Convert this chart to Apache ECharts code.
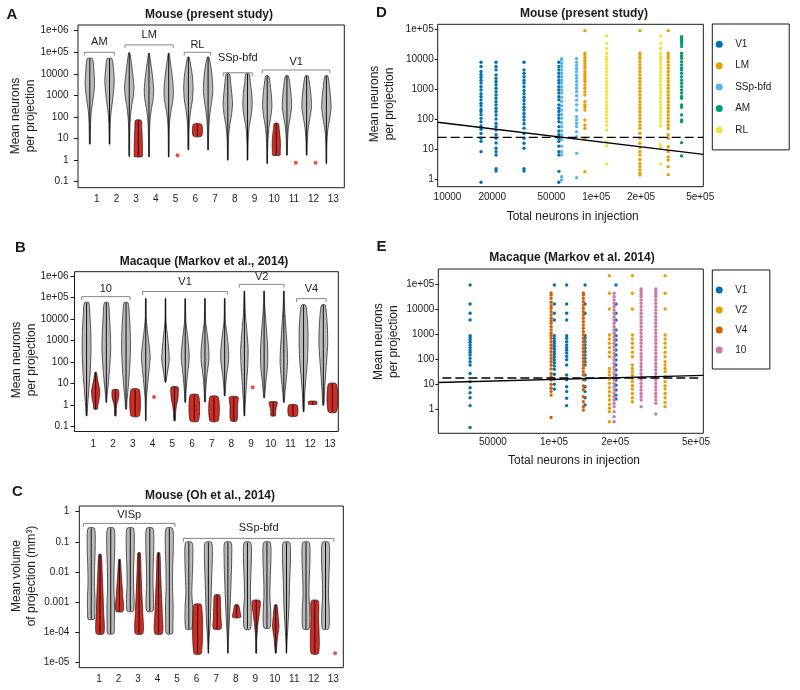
<!DOCTYPE html>
<html><head><meta charset="utf-8">
<script src="https://cdn.jsdelivr.net/npm/echarts@6/dist/echarts.min.js"></script>
<style>html,body{margin:0;padding:0;background:#fff}#c{width:800px;height:690px}</style>
</head><body><div id="c"></div>
<script>
// ---------------- DATA ----------------
const CAT_LABELS = ['1','2','3','4','5','6','7','8','9','10','11','12','13'];
const CAT_VALUES = [1,2,3,4,5,6,7,8,9,10,11,12,13];
const NEURON_Y_TICKS = [0.1, 1, 10, 100, 1000, 10000, 1e5, 1e6];
const NEURON_Y_LABELS = ['0.1','1','10','100','1000','10000','1e+05','1e+06'];
const VOLUME_Y_TICKS = [1e-5, 1e-4, 0.001, 0.01, 0.1, 1];
const VOLUME_Y_LABELS = ['1e-05','1e-04','0.001','0.01','0.1','1'];
const SCATTER_Y_TICKS = [1, 10, 100, 1000, 10000, 1e5];
const SCATTER_Y_LABELS = ['1','10','100','1000','10000','1e+05'];
const D_X_TICKS = [10000, 20000, 50000, 1e5, 2e5, 5e5];
const D_X_LABELS = ['10000','20000','50000','1e+05','2e+05','5e+05'];
const E_X_TICKS = [50000, 1e5, 2e5, 5e5];
const E_X_LABELS = ['50000','1e+05','2e+05','5e+05'];

// Panel A: violin profiles, [value, relative half-width] from top to bottom
const A_GRAY = [
 [[50000,0.55],[15000,0.85],[3600,1],[1250,0.85],[430,0.55],[150,0.28],[50,0.16],[17,0.12],[5.5,0.08]],
 [[50000,0.5],[20000,0.8],[5000,1],[1500,0.85],[500,0.6],[150,0.3],[50,0.15],[15,0.1],[5.5,0.08]],
 [[95000,0.1],[31000,0.45],[7400,0.8],[2500,1],[870,0.85],[300,0.5],[100,0.25],[25,0.12],[1.5,0.06]],
 [[90000,0.08],[30000,0.4],[8000,0.75],[2000,1],[700,0.9],[250,0.55],[80,0.25],[20,0.12],[1.4,0.06]],
 [[90000,0.08],[30000,0.4],[8000,0.75],[1800,1],[600,0.9],[200,0.5],[60,0.2],[15,0.1],[1.4,0.06]],
 [[60000,0.15],[25000,0.5],[8000,0.85],[2000,1],[600,0.85],[200,0.5],[60,0.22],[15,0.12],[3,0.08]],
 [[60000,0.15],[25000,0.55],[6000,0.9],[1500,1],[500,0.75],[150,0.4],[40,0.18],[10,0.1],[3,0.08]],
 [[10000,0.35],[4000,0.6],[1200,0.85],[400,1],[130,0.8],[40,0.4],[12,0.18],[3,0.1],[1,0.07]],
 [[10000,0.35],[4000,0.6],[1200,0.9],[350,1],[110,0.75],[35,0.35],[10,0.16],[3,0.1],[1,0.07]],
 [[8000,0.3],[3000,0.65],[900,0.9],[300,1],[100,0.75],[30,0.35],[8,0.15],[2,0.08],[0.7,0.06]],
 [[8000,0.3],[3000,0.65],[900,0.9],[300,1],[100,0.7],[30,0.3],[8,0.14],[1.7,0.07]],
 [[8000,0.3],[2500,0.7],[800,0.95],[250,1],[80,0.65],[25,0.3],[6,0.12],[1.7,0.07]],
 [[8000,0.3],[2500,0.65],[800,0.9],[250,1],[80,0.7],[25,0.3],[6,0.12],[2,0.08],[0.7,0.06]]
];
const A_RED = [null, null,
 [[70,0.6],[30,0.75],[10,0.85],[4,0.9],[2,0.9],[1.45,0.85]],
 null, null,
 [[45,0.9],[13,0.9]],
 null, null, null,
 [[50,0.45],[25,0.65],[10,0.85],[5,0.9],[2.5,0.85],[1.7,0.8]],
 null, null, null];
const A_DOT = [null,null,null,null,1.7,null,null,null,null,null,0.75,0.75,null];
const A_GROUPS = ['AM','LM','RL','SSp-bfd','V1'];
const A_GROUP_SPAN = [[0.37,1.89],[2.44,4.88],[5.44,6.78],[7.42,8.89],[9.40,12.83]];
const A_GROUP_LEVEL = [1e5, 2.2e5, 1e5, 11200, 15000];
const A_GROUP_LABEL_LEVEL = [3.1e5, 6.3e5, 2.2e5, 52000, 36000];

// Panel B
const B_GRAY = [
 [[57000,0.5],[15000,0.75],[2600,0.95],[330,1],[28,0.8],[5,0.5],[0.9,0.22],[0.32,0.1]],
 [[57000,0.45],[15000,0.7],[2600,0.9],[400,1],[50,0.75],[8,0.4],[2.5,0.15],[1.35,0.08]],
 [[57000,0.45],[15000,0.75],[2600,0.95],[300,1],[30,0.75],[5,0.45],[1.5,0.2],[0.65,0.1]],
 [[90000,0.06],[10000,0.12],[2600,0.4],[440,0.85],[180,1],[70,0.85],[10,0.45],[2,0.15],[0.19,0.05]],
 [[90000,0.06],[8000,0.12],[1300,0.5],[200,0.85],[100,0.8],[30,0.4],[11.5,0.08]],
 [[90000,0.06],[8000,0.15],[1500,0.55],[250,0.9],[100,0.85],[25,0.5],[5,0.2],[1.35,0.08]],
 [[90000,0.06],[8000,0.15],[1500,0.6],[300,0.9],[100,0.85],[25,0.45],[5,0.18],[1.4,0.08]],
 [[90000,0.06],[8000,0.15],[1500,0.6],[300,0.9],[100,0.85],[25,0.45],[6,0.18],[2.7,0.08]],
 [[200000,0.06],[20000,0.2],[3000,0.55],[400,0.85],[60,0.75],[8,0.45],[1.2,0.2],[0.32,0.08]],
 [[200000,0.06],[40000,0.15],[3000,0.55],[500,0.8],[80,0.8],[15,0.45],[4,0.2],[2.2,0.1]],
 [[200000,0.06],[40000,0.15],[3000,0.5],[500,0.75],[100,0.85],[20,0.6],[4,0.25],[1.35,0.08]],
 [[45000,0.45],[15000,0.8],[3000,1],[500,1],[100,0.85],[20,0.55],[3,0.25],[0.5,0.1]],
 [[45000,0.4],[15000,0.75],[3000,0.95],[700,1],[150,0.8],[30,0.55],[5,0.3],[1,0.12]]
];
const B_RED = [
 [[34,0.15],[15,0.45],[7,0.8],[4,0.95],[2,0.8],[1,0.5],[0.66,0.4]],
 [[5.2,0.65],[3.5,0.8],[2,0.7],[1.2,0.35],[0.7,0.2],[0.32,0.15]],
 [[5.2,0.95],[0.32,0.95]],
 null,
 [[7,0.75],[4,0.85],[2,0.75],[1,0.45],[0.5,0.25],[0.19,0.15]],
 [[2.9,0.95],[0.19,0.95]],
 [[2.4,0.95],[0.19,0.95]],
 [[2.4,0.95],[1,0.85],[0.19,0.7]],
 null,
 [[1.4,0.9],[0.8,0.7],[0.5,0.55],[0.32,0.5]],
 [[1,0.95],[0.32,0.95]],
 [[1.5,0.9],[1.1,0.9]],
 [[9.5,0.95],[0.5,0.95]]
];
const B_DOT = [null,null,null,2.4,null,null,null,null,6.9,null,null,null,null];
const B_GROUPS = ['10','V1','V2','V4'];
const B_GROUP_SPAN = [[0.41,2.86],[3.5,7.8],[8.4,10.67],[11.31,12.8]];
const B_GROUP_LEVEL = [1.1e5, 1.9e5, 4.1e5, 89000];
const B_GROUP_LABEL_LEVEL = [2.5e5, 5.5e5, 9.3e5, 2.5e5];

// Panel C
const C_GRAY = [
 [[0.28,0.8],[0.07,1],[0.015,0.85],[0.004,0.8],[0.0012,0.95],[0.00045,0.9],[0.00027,0.75]],
 [[0.28,0.8],[0.07,1],[0.015,0.85],[0.003,0.8],[0.0008,0.95],[0.0002,0.9],[0.00009,0.75]],
 [[0.28,0.8],[0.07,1],[0.015,0.85],[0.004,0.8],[0.0012,0.95],[0.0005,0.75]],
 [[0.28,0.8],[0.07,1],[0.015,0.85],[0.004,0.8],[0.0012,0.95],[0.0005,0.75]],
 [[0.28,0.8],[0.07,1],[0.015,0.85],[0.003,0.8],[0.0008,0.95],[0.0002,0.9],[0.00009,0.75]],
 [[0.095,0.8],[0.03,1],[0.006,0.85],[0.002,0.75],[0.0006,0.95],[0.00013,0.75]],
 [[0.095,0.8],[0.03,1],[0.005,0.8],[0.001,0.65],[0.0002,0.45],[0.00005,0.15],[0.00002,0.05]],
 [[0.095,0.8],[0.03,0.95],[0.005,0.8],[0.001,0.6],[0.0002,0.35],[0.00005,0.12],[0.00002,0.05]],
 [[0.095,0.8],[0.03,1],[0.005,0.8],[0.0015,0.75],[0.0005,0.95],[0.00013,0.75]],
 [[0.095,0.8],[0.03,1],[0.005,0.8],[0.0015,0.75],[0.0005,0.95],[0.00014,0.75]],
 [[0.095,0.8],[0.03,1],[0.005,0.8],[0.0008,0.65],[0.0002,0.4],[0.00005,0.15],[0.00002,0.05]],
 [[0.095,0.8],[0.03,1],[0.005,0.8],[0.0015,0.75],[0.0005,0.95],[0.00013,0.75]],
 [[0.095,0.8],[0.03,1],[0.005,0.8],[0.0015,0.75],[0.0005,0.95],[0.00013,0.75]]
];
const C_RED = [
 [[0.038,0.3],[0.01,0.55],[0.002,0.75],[0.0005,0.9],[0.00009,0.95]],
 [[0.026,0.2],[0.008,0.45],[0.002,0.75],[0.0005,0.9]],
 [[0.043,0.3],[0.01,0.5],[0.002,0.7],[0.0005,0.9],[0.00009,0.95]],
 [[0.043,0.3],[0.01,0.5],[0.002,0.7],[0.0005,0.9],[0.00009,0.95]],
 null,
 [[0.0008,0.95],[0.00002,0.95]],
 [[0.0017,0.65],[0.0008,0.85],[0.0003,0.95],[0.00013,0.95]],
 [[0.0008,0.45],[0.0005,0.8],[0.00031,1]],
 [[0.0011,0.95],[0.0004,0.75],[0.00015,0.35],[0.00005,0.12],[0.00002,0.1]],
 [[0.0008,0.3],[0.0003,0.65],[0.00015,0.8],[0.00006,0.4],[0.00002,0.1]],
 null,
 [[0.0011,0.85],[0.0003,0.95],[0.00002,0.95]],
 null
];
const C_DOT = [null,null,null,null,null,null,null,null,null,null,null,null,0.00002];
const C_GROUPS = ['VISp','SSp-bfd'];
const C_GROUP_SPAN = [[0.2,4.89],[5.32,13.03]];
const C_GROUP_LEVEL = [0.41, 0.13];
const C_GROUP_LABEL_LEVEL = [0.78, 0.29];

// Panel D: mouse (present study), x = total neurons in injection, y = mean neurons per projection
const D_GROUPS = ['V1','LM','SSp-bfd','AM','RL'];
const D_COLORS = ['#0072B2','#E69F00','#56B4E9','#009E73','#F0E442'];
const D_V1_X = [16800, 21200, 32700, 56100];
const D_V1_Y = [
 [7900,5700,3900,3100,2500,2000,1600,1200,940,700,560,440,340,280,210,180,140,106,82,59,46,33,23,18,8.2,0.78],
 [7900,5700,4400,3000,2300,1800,1400,1070,830,640,500,380,300,230,180,137,101,72,56,43,30,23,16,10.6,8.2,6.3,2.2,1.85],
 [7900,4400,3400,2600,2000,1600,1200,900,700,540,420,320,250,200,155,120,94,70,50,33,23,15.6,10.6,2.2,1.85],
 [7900,5700,4400,3400,2600,2000,1600,1200,940,740,560,440,300,230,180,137,106,82,56,40,30,23,18,12.5,8.2,6.3,1.8,0.78]
];
const D_LM_X = [83900, 196700, 304900];
const D_LM_Y = [
 [90000,15800,12900,10700,9000,7300,6000,5000,3850,3100,2600,2100,1800,1380,1070,830,640,380,300,250,200,94,64,49,23,1.76],
 [90000,15800,12900,10700,8300,6400,5000,3850,3000,2300,1800,1380,1070,830,640,500,384,297,230,178,137,106,82,63,49,33.6,23,15.6,11.1,8.2,6.3,4.5,3.3,2.6,2.0,1.55,1.36],
 [90000,15800,12900,10700,8300,6400,5000,3850,3000,2300,1800,1380,1070,830,640,500,384,297,230,178,137,106,82,63,49,30,23,12,8.2,5.5,4.3,2.6,1.4]
];
const D_SSP_X = [58500, 73800];
const D_SSP_Y = [
 [10500,9400,7300,5700,4400,3400,2600,2000,1600,1200,940,740,540,390,280,200,144,106,76,56,41,30,21,12.5,8.2,6.3,1.2,0.93],
 [10500,8000,6300,4900,3800,2900,2300,1800,1380,1070,830,600,430,300,200,121,94,72,56,38,26,7.2,1.1]
];
const D_AM_X = [374900];
const D_AM_Y = [
 [57000,50000,44000,38700,32400,26400,15800,12900,10700,8300,6400,5000,4400,3400,2600,2000,1570,1220,940,740,570,500,297,250,137,94,82,16.4,5.9]
];
const D_RL_X = [117400, 271000];
const D_RL_Y = [
 [61000,34000,23000,15800,12200,9950,8300,6400,5000,3850,3000,2300,1800,1380,1070,830,640,500,384,297,230,178,137,106,82,63,43,17.7,12.6,3.2],
 [61000,34000,23000,15800,12200,9950,8300,6400,5000,3850,3000,2300,1800,1380,1070,830,640,500,384,297,230,178,137,106,82,60,14,11.5,3.2]
];
const D_FIT = [4.25, -0.599];   // log10(y) = a + b*log10(x)
const D_NULL = 24.5;

// Panel E: macaque (Markov et al. 2014)
const E_GROUPS = ['V1','V2','V4','10'];
const E_COLORS = ['#0072B2','#E69F00','#D55E00','#CC79A7'];
const E_V1_X = [38600, 100300, 115400, 142100, 201800];
const E_V1_Y = [
 [91000,15900,6760,3670,870,720,580,470,370,290,233,188,147,108,80,59,27,12.7,7.3,4.6,2.9,1.4,0.19],
 [91000,15900,6760,3670,870,680,530,420,330,260,200,160,126,96,72,54,40,25,16,10,6.4],
 [91000,15900,6760,3670,870,680,500,370,290,230,175,130,96,59,23.4,15,8,5.1,2.75,1.4],
 [91000,15900,6760,870,680,500,370,272,200,147,108,80,59,23.4,15,8,5.1,2.9,1.5],
 [91000,15900,6760,3670,1460,870,580,370,233,147,93,59,37,23.4,14.8,9.2,5.9,3.7,2.6]
];
const E_V2_X = [187300, 243000, 352300];
const E_V2_Y = [
 [215000,42500,10100,920,640,430,290,188,126,43,32,23.4,16.2,10.9,7.3,5.1,3.5,2.36,1.58,1.1,0.81,0.32],
 [215000,42500,10100,920,640,430,290,188,126,59,43,32,23.4,17.3,12.7,8.8,6.5,4.3,2.9,2.0],
 [215000,42500,10100,920,640,430,290,188,126,80,59,43,32,20,12.7,8.8,6.5,4.3,2.9,1.9,1.28]
];
const E_V4_X = [96700, 139400];
const E_V4_Y = [
 [44000,36400,26800,18600,13700,10700,7900,5800,4270,3340,2700,1990,1460,1080,870,680,500,370,272,200,147,108,80,59,41,27,20,14.8,9.9,6.9,5.1,3.7,0.47],
 [44000,36400,26800,19500,14400,10700,7900,5800,4270,3150,2300,1700,1250,920,680,500,370,272,200,147,108,80,59,44,32,23.4,15,8.5,6.2,3.2,2.0,1.28,0.94]
];
const E_10_X = [197600, 268400, 317000];
const E_10_Y = [
 [42500,31300,23000,16900,12500,9200,6760,4980,3660,2700,1990,1460,1080,790,580,430,316,233,171,126,93,68,50,37,27,20,14.8,10.9,8,5.9,4.3,3.2,2.36,1.73,1.28,0.81,0.51,0.32],
 [63000,50000,39000,31300,23000,16900,12500,9200,6760,4980,3660,2700,1990,1460,1080,790,580,430,316,233,171,126,93,68,50,37,27,20,14.8,10.9,8,5.9,4.3,3.2,2.36,1.28],
 [63000,50000,39000,31300,23000,16900,12500,9200,6760,4980,3660,2700,1990,1460,1080,790,580,430,316,233,171,126,93,68,50,37,27,20,14.8,10.9,8,5.9,4.3,3.2,2.36,1.73,0.65]
];
const E_FIT = [0.104, 0.218];
const E_NULL = 17.8;

// ---------------- RENDERING ----------------
const FONT = "'Liberation Sans', Arial, Helvetica, sans-serif";
const INK = '#1a1a1a';
const L10 = Math.log10;

function labelFor(v, lv, labels) {
  for (let i = 0; i < lv.length; i++) if (Math.abs(lv[i] - v) < 1e-6) return labels[i];
  return '';
}
function logAxisY(gi, min, max, ticks, labels, margin, tickLen) {
  const lv = ticks.map(L10);
  return { type: 'value', gridIndex: gi, min, max, splitLine: { show: false },
    axisLine: { show: false, onZero: false },
    axisTick: { show: true, inside: false, customValues: lv, length: tickLen, lineStyle: { color: INK, width: 1 } },
    axisLabel: { customValues: lv, margin, fontSize: 10, fontFamily: FONT, color: INK,
      formatter: v => labelFor(v, lv, labels) } };
}
function logAxisX(gi, min, max, ticks, labels, margin) {
  const lv = ticks.map(L10);
  return { type: 'value', gridIndex: gi, min, max, position: 'bottom', splitLine: { show: false },
    axisLine: { show: false, onZero: false },
    axisTick: { show: false },
    axisLabel: { customValues: lv, margin, fontSize: 10, fontFamily: FONT, color: INK,
      formatter: v => labelFor(v, lv, labels) } };
}
function catAxisX(gi, min, max, margin) {
  return { type: 'value', gridIndex: gi, min, max, position: 'bottom', splitLine: { show: false },
    axisLine: { show: false, onZero: false },
    axisTick: { show: false },
    axisLabel: { customValues: CAT_VALUES, margin, fontSize: 10, fontFamily: FONT, color: INK,
      formatter: v => labelFor(v, CAT_VALUES, CAT_LABELS) } };
}

function violinSeries(profiles, gi, offset, halfPx, fill) {
  const data = [];
  profiles.forEach((p, i) => { if (p) data.push([CAT_VALUES[i], L10(p[0][0]), i]); });
  return { type: 'custom', coordinateSystem: 'cartesian2d', xAxisIndex: gi, yAxisIndex: gi, data,
    encode: { x: 0, y: 1 }, silent: true, z: 3,
    renderItem(params, api) {
      const prof = profiles[api.value(2)];
      const xc = api.value(0) + offset;
      const R = [], Lf = [];
      prof.forEach(([v, w]) => {
        const c = api.coord([xc, L10(v)]);
        R.push([c[0] + w * halfPx, c[1]]);
        Lf.push([c[0] - w * halfPx, c[1]]);
      });
      const pts = R.concat(Lf.reverse());
      const t = api.coord([xc, L10(prof[0][0])]);
      const b = api.coord([xc, L10(prof[prof.length - 1][0])]);
      return { type: 'group', children: [
        { type: 'polygon', shape: { points: pts, smooth: 0.25 }, style: { fill, stroke: INK, lineWidth: 0.7 } },
        { type: 'line', shape: { x1: t[0], y1: t[1], x2: b[0], y2: b[1] }, style: { stroke: '#111', lineWidth: 1 } }
      ] };
    } };
}
function dotSeries(dots, gi, offset) {
  const data = [];
  dots.forEach((v, i) => { if (v != null) data.push([CAT_VALUES[i] + offset, L10(v)]); });
  return { type: 'scatter', xAxisIndex: gi, yAxisIndex: gi, data, symbolSize: 4, silent: true, z: 4,
    itemStyle: { color: '#e3261f' } };
}
function bracketSeries(names, spans, levels, labelLevels, gi) {
  const data = names.map((n, i) => [spans[i][0], L10(levels[i]), i]);
  return { type: 'custom', coordinateSystem: 'cartesian2d', xAxisIndex: gi, yAxisIndex: gi, data,
    encode: { x: 0, y: 1 }, silent: true, z: 5,
    renderItem(params, api) {
      const i = api.value(2);
      const a = api.coord([spans[i][0], L10(levels[i])]);
      const b = api.coord([spans[i][1], L10(levels[i])]);
      const lc = api.coord([(spans[i][0] + spans[i][1]) / 2, L10(labelLevels[i])]);
      return { type: 'group', children: [
        { type: 'polyline', shape: { points: [[a[0], a[1] + 3.3], [a[0], a[1]], [b[0], b[1]], [b[0], b[1] + 3.3]] },
          style: { stroke: '#858585', lineWidth: 1, fill: null } },
        { type: 'text', x: lc[0], y: lc[1], style: { text: names[i], fill: INK, fontSize: 11, fontFamily: FONT,
          align: 'center', verticalAlign: 'middle' } }
      ] };
    } };
}
function scatterGroup(name, color, xs, ys, gi) {
  const data = [];
  xs.forEach((x, i) => ys[i].forEach(y => data.push([L10(x), L10(y)])));
  return { type: 'scatter', name, xAxisIndex: gi, yAxisIndex: gi, data, symbolSize: 3.4, silent: true, z: 3,
    itemStyle: { color, opacity: 1 } };
}
function fitSeries(fit, gi, xmin, xmax) {
  return { type: 'line', xAxisIndex: gi, yAxisIndex: gi, symbol: 'none', silent: true, z: 6,
    data: [[xmin, fit[0] + fit[1] * xmin], [xmax, fit[0] + fit[1] * xmax]],
    lineStyle: { color: '#000', width: 1.4 } };
}
function nullSeries(val, gi, xmin, xmax) {
  return { type: 'line', xAxisIndex: gi, yAxisIndex: gi, symbol: 'none', silent: true, z: 6,
    data: [[xmin, L10(val)], [xmax, L10(val)]],
    lineStyle: { color: '#000', width: 1.4, type: [9, 4] } };
}

// axis extents (log10 units)
const AX = { A: [0.05, 13.56, -1.278, 6.264], B: [0.047, 13.42, -1.222, 6.2], C: [-0.01, 13.51, -5.18, 0.19],
  D: [3.934, 5.72, -0.257, 5.167], E: [4.43, 5.735, -0.956, 5.598] };

const gridStyle = { show: true, borderColor: INK, borderWidth: 1, backgroundColor: 'rgba(0,0,0,0)', containLabel: false };
const GRAY = '#b9b9b9', RED = '#d42a20';

function txt(x, y, text, size, bold, rot) {
  return { type: 'text', x, y, rotation: rot || 0, silent: true,
    style: { text, fill: INK, fontSize: size, fontWeight: bold ? 'bold' : 'normal', fontFamily: FONT,
      align: 'center', verticalAlign: 'middle', textAlign: 'center', textVerticalAlign: 'middle', lineHeight: 15 } };
}

const series = [
  violinSeries(A_GRAY, 0, -0.35, 4.7, GRAY), violinSeries(A_RED, 0, 0.11, 4.6, RED), dotSeries(A_DOT, 0, 0.1),
  bracketSeries(A_GROUPS, A_GROUP_SPAN, A_GROUP_LEVEL, A_GROUP_LABEL_LEVEL, 0),
  violinSeries(B_GRAY, 1, -0.34, 4.4, GRAY), violinSeries(B_RED, 1, 0.12, 4.4, RED), dotSeries(B_DOT, 1, 0.08),
  bracketSeries(B_GROUPS, B_GROUP_SPAN, B_GROUP_LEVEL, B_GROUP_LABEL_LEVEL, 1),
  violinSeries(C_GRAY, 2, -0.40, 4.0, GRAY), violinSeries(C_RED, 2, 0.05, 4.0, RED), dotSeries(C_DOT, 2, 0.09),
  bracketSeries(C_GROUPS, C_GROUP_SPAN, C_GROUP_LEVEL, C_GROUP_LABEL_LEVEL, 2),
  scatterGroup('V1', D_COLORS[0], D_V1_X, D_V1_Y, 3),
  scatterGroup('LM', D_COLORS[1], D_LM_X, D_LM_Y, 3),
  scatterGroup('SSp-bfd', D_COLORS[2], D_SSP_X, D_SSP_Y, 3),
  scatterGroup('AM', D_COLORS[3], D_AM_X, D_AM_Y, 3),
  scatterGroup('RL', D_COLORS[4], D_RL_X, D_RL_Y, 3),
  fitSeries(D_FIT, 3, AX.D[0], AX.D[1]), nullSeries(D_NULL, 3, AX.D[0], AX.D[1]),
  scatterGroup('V1', E_COLORS[0], E_V1_X, E_V1_Y, 4),
  scatterGroup('V2', E_COLORS[1], E_V2_X, E_V2_Y, 4),
  scatterGroup('V4', E_COLORS[2], E_V4_X, E_V4_Y, 4),
  scatterGroup('10', E_COLORS[3], E_10_X, E_10_Y, 4),
  fitSeries(E_FIT, 4, AX.E[0], AX.E[1]), nullSeries(E_NULL, 4, AX.E[0] + 0.02, 5.71)
];

const legendBase = { orient: 'vertical', icon: 'circle', itemWidth: 22, itemHeight: 7, selectedMode: false,
  borderColor: INK, borderWidth: 1, backgroundColor: '#fff',
  textStyle: { fontSize: 10, fontFamily: FONT, color: INK, lineHeight: 12 } };

const option = {
  animation: false,
  backgroundColor: '#fff',
  grid: [
    Object.assign({ left: 78, top: 25, width: 266.3, height: 162.7 }, gridStyle),
    Object.assign({ left: 74.5, top: 271.7, width: 263.8, height: 159.8 }, gridStyle),
    Object.assign({ left: 79.3, top: 506, width: 264, height: 161.7 }, gridStyle),
    Object.assign({ left: 437.7, top: 24.3, width: 265.6, height: 162.4 }, gridStyle),
    Object.assign({ left: 438.3, top: 269, width: 265, height: 164.3 }, gridStyle)
  ],
  xAxis: [
    catAxisX(0, AX.A[0], AX.A[1], 7),
    catAxisX(1, AX.B[0], AX.B[1], 8),
    catAxisX(2, AX.C[0], AX.C[1], 7),
    logAxisX(3, AX.D[0], AX.D[1], D_X_TICKS, D_X_LABELS, 6),
    logAxisX(4, AX.E[0], AX.E[1], E_X_TICKS, E_X_LABELS, 4)
  ],
  yAxis: [
    logAxisY(0, AX.A[2], AX.A[3], NEURON_Y_TICKS, NEURON_Y_LABELS, 9.5, 4),
    logAxisY(1, AX.B[2], AX.B[3], NEURON_Y_TICKS, NEURON_Y_LABELS, 6, 4),
    logAxisY(2, AX.C[2], AX.C[3], VOLUME_Y_TICKS, VOLUME_Y_LABELS, 10, 4),
    logAxisY(3, AX.D[2], AX.D[3], SCATTER_Y_TICKS, SCATTER_Y_LABELS, 4, 3),
    logAxisY(4, AX.E[2], AX.E[3], SCATTER_Y_TICKS, SCATTER_Y_LABELS, 4, 3)
  ],
  legend: [
    Object.assign({ data: D_GROUPS, left: 712.3, top: 24, itemGap: 9.4, padding: [14.3, 17.9, 14, 3.4] }, legendBase),
    Object.assign({ data: E_GROUPS, left: 712.3, top: 270, itemGap: 8, padding: [14, 22.4, 13, 3.4] }, legendBase)
  ],
  graphic: [
    txt(12, 15, 'A', 15, true), txt(20.5, 248, 'B', 15, true), txt(17.5, 491.7, 'C', 15, true),
    txt(381.5, 13, 'D', 15, true), txt(381.5, 246.7, 'E', 15, true),
    txt(209, 15, 'Mouse (present study)', 12, true),
    txt(204, 261.7, 'Macaque (Markov et al., 2014)', 12, true),
    txt(210, 495.7, 'Mouse (Oh et al., 2014)', 12, true),
    txt(584, 14, 'Mouse (present study)', 12, true),
    txt(572, 257.3, 'Macaque (Markov et al. 2014)', 12, true),
    txt(23.5, 116, 'Mean neurons\nper projection', 12, false, Math.PI / 2),
    txt(23.8, 360, 'Mean neurons\nper projection', 12, false, Math.PI / 2),
    txt(23.8, 576, 'Mean volume\nof projection (mm³)', 12, false, Math.PI / 2),
    txt(382.5, 104, 'Mean neurons\nper projection', 12, false, Math.PI / 2),
    txt(386.5, 341.7, 'Mean neurons\nper projection', 12, false, Math.PI / 2),
    txt(572.7, 217, 'Total neurons in injection', 12, false),
    txt(574, 461, 'Total neurons in injection', 12, false)
  ],
  series
};

const chart = echarts.init(document.getElementById('c'), null, { renderer: 'canvas' });
chart.setOption(option);
</script></body></html>
